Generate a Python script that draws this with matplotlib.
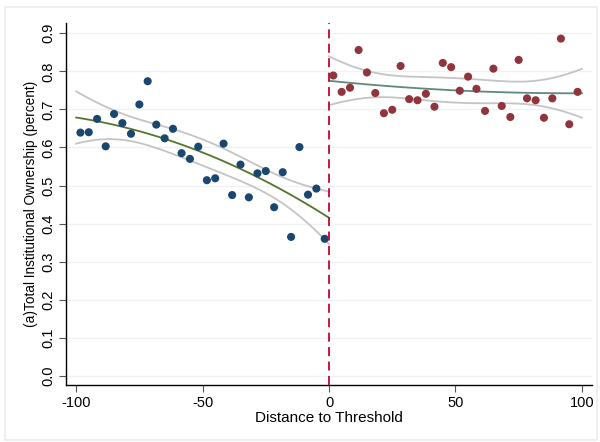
import numpy as np
import matplotlib.pyplot as plt
from matplotlib.patches import Rectangle

plt.rcParams['font.family'] = ['Liberation Sans', 'DejaVu Sans']

# binned means left of the threshold
left_x = [-98.3, -95.0, -91.7, -88.3, -85.0, -81.7, -78.3, -75.0, -71.7, -68.3,
          -65.0, -61.7, -58.3, -55.0, -51.7, -48.3, -45.0, -41.7, -38.3, -35.0,
          -31.7, -28.3, -25.0, -21.7, -18.3, -15.0, -11.7, -8.3, -5.0, -1.7]
left_y = [0.639, 0.640, 0.675, 0.603, 0.688, 0.664, 0.636, 0.713, 0.774, 0.660,
          0.624, 0.649, 0.585, 0.570, 0.602, 0.514, 0.519, 0.610, 0.475, 0.555,
          0.469, 0.532, 0.538, 0.443, 0.535, 0.365, 0.601, 0.476, 0.492, 0.360]

# binned means right of the threshold
right_x = [1.7, 5.0, 8.3, 11.7, 15.0, 18.3, 21.7, 25.0, 28.3, 31.7,
           35.0, 38.3, 41.7, 45.0, 48.3, 51.7, 55.0, 58.3, 61.7, 65.0,
           68.3, 71.7, 75.0, 78.3, 81.7, 85.0, 88.3, 91.7, 95.0, 98.3]
right_y = [0.789, 0.746, 0.757, 0.856, 0.797, 0.743, 0.690, 0.699, 0.814, 0.727,
           0.724, 0.741, 0.707, 0.822, 0.811, 0.749, 0.786, 0.754, 0.696, 0.807,
           0.709, 0.680, 0.830, 0.729, 0.724, 0.678, 0.729, 0.886, 0.661, 0.746]

x_ticks = [-100, -50, 0, 50, 100]
y_ticks = [0.0, 0.1, 0.2, 0.3, 0.4, 0.5, 0.6, 0.7, 0.8, 0.9]


def qfit_ci(x, y, grid):
    # quadratic fit with 95% CI of the mean prediction
    x = np.asarray(x)
    y = np.asarray(y)
    X = np.column_stack([np.ones_like(x), x, x ** 2])
    beta, *_ = np.linalg.lstsq(X, y, rcond=None)
    resid = y - X @ beta
    n, k = X.shape
    s2 = resid @ resid / (n - k)
    cov = s2 * np.linalg.inv(X.T @ X)
    G = np.column_stack([np.ones_like(grid), grid, grid ** 2])
    fit = G @ beta
    se = np.sqrt(np.einsum('ij,jk,ik->i', G, cov, G))
    t = 2.052  # t(0.975, 27)
    return fit, fit - t * se, fit + t * se


fig = plt.figure(figsize=(6, 4.42), dpi=100)
ax = fig.add_axes([0.11, 0.129, 0.8767, 0.819])

fig.patches.append(Rectangle((5 / 600, 2 / 442), 592 / 600, 433 / 442,
                             transform=fig.transFigure, fill=False,
                             edgecolor='#e6edf1', linewidth=1.2))

for yt in y_ticks:
    ax.axhline(yt, color='#edf2f4', linewidth=1.0, zorder=0)

gl = np.linspace(-100, 0, 100)
fit, lo, hi = qfit_ci(left_x, left_y, gl)
ax.plot(gl, hi, color='#c4c4c4', linewidth=1.3, zorder=2)
ax.plot(gl, lo, color='#c4c4c4', linewidth=1.3, zorder=2)
ax.plot(gl, fit, color='#55752f', linewidth=1.3, zorder=3)

gr = np.linspace(0, 100, 100)
fit, lo, hi = qfit_ci(right_x, right_y, gr)
ax.plot(gr, hi, color='#c4c4c4', linewidth=1.3, zorder=2)
ax.plot(gr, lo, color='#c4c4c4', linewidth=1.3, zorder=2)
ax.plot(gr, fit, color='#5e8a7c', linewidth=1.3, zorder=3)

ax.scatter(left_x, left_y, s=34, color='#1a476f', edgecolors='none', zorder=4)
ax.scatter(right_x, right_y, s=34, color='#90353b', edgecolors='none', zorder=4)

ax.axvline(0, color='#c10534', linewidth=1.3, linestyle=(0, (5, 3)), zorder=5)

ax.set_xlim(-104, 104)
ax.set_ylim(-0.024, 0.927)
ax.set_xticks(x_ticks)
ax.set_xticklabels([str(v) for v in x_ticks])
ax.set_yticks(y_ticks)
ax.set_yticklabels(['%.1f' % v for v in y_ticks], rotation=90, va='center')

ax.spines['top'].set_visible(False)
ax.spines['right'].set_visible(False)
ax.spines['left'].set_linewidth(1.0)
ax.spines['bottom'].set_linewidth(1.0)
ax.tick_params(axis='both', direction='out', length=5, width=0.8,
               color='#555555', labelsize=10.5, pad=3)

ax.set_xlabel('Distance to Threshold', fontsize=11, labelpad=1)
ax.set_ylabel('(a)Total Institutional Ownership (percent)', fontsize=9.8,
              labelpad=2)

fig.savefig('out.png', dpi=100)
